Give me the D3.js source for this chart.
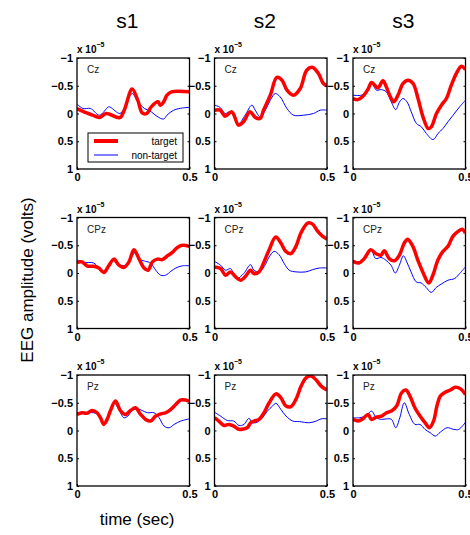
<!DOCTYPE html>
<html><head><meta charset="utf-8">
<script src="https://cdn.jsdelivr.net/npm/d3@7"></script>
<style>body{margin:0;background:#fff}svg{display:block}</style>
</head><body>
<script>
// Values in units of 1e-5 volts; time in seconds
const subjects = ["s1","s2","s3"];
const channels = ["Cz","CPz","Pz"];
const xTicks = [0, 0.5];
const yTicks = [-1, -0.5, 0, 0.5, 1];
const legendLabels = ["target","non-target"];

const s1_Cz_target = [[0,-0.09],[0.043,-0.01],[0.07,0.03],[0.1,0.07],[0.13,0],[0.19,0.075],[0.21,-0.06],[0.245,-0.44],[0.27,-0.24],[0.29,-0.01],[0.31,0],[0.33,-0.12],[0.36,-0.21],[0.37,-0.15],[0.385,-0.21],[0.4,-0.33],[0.42,-0.39],[0.5,-0.39]];
const s1_Cz_nontarget = [[0,-0.17],[0.027,-0.09],[0.06,-0.09],[0.1,0.03],[0.14,-0.12],[0.15,-0.11],[0.19,0],[0.21,-0.09],[0.245,-0.36],[0.27,-0.21],[0.3,-0.09],[0.33,-0.03],[0.355,0.05],[0.385,0.1],[0.4,0.03],[0.43,-0.06],[0.47,-0.1],[0.5,-0.11]];
const s2_Cz_target = [[0,-0.06],[0.025,-0.06],[0.047,0.05],[0.077,-0.03],[0.107,0.21],[0.129,0.15],[0.158,-0.03],[0.181,0.07],[0.203,0.09],[0.218,-0.06],[0.248,-0.33],[0.277,-0.65],[0.3,-0.6],[0.322,-0.42],[0.351,-0.33],[0.381,-0.45],[0.41,-0.78],[0.436,-0.83],[0.462,-0.72],[0.484,-0.54],[0.5,-0.5]];
const s2_Cz_nontarget = [[0,-0.15],[0.025,-0.11],[0.047,0],[0.07,-0.03],[0.107,0.18],[0.136,0.03],[0.166,-0.15],[0.181,-0.06],[0.203,0.06],[0.226,-0.06],[0.248,-0.24],[0.27,-0.36],[0.292,-0.3],[0.322,-0.09],[0.351,0.03],[0.396,0.03],[0.44,0],[0.47,-0.06],[0.5,-0.06]];
const s3_Cz_target = [[0,-0.27],[0.022,-0.25],[0.044,-0.31],[0.067,-0.44],[0.082,-0.56],[0.096,-0.51],[0.111,-0.46],[0.133,-0.59],[0.148,-0.48],[0.163,-0.33],[0.181,-0.21],[0.2,-0.33],[0.222,-0.54],[0.245,-0.6],[0.267,-0.54],[0.289,-0.27],[0.311,0.06],[0.334,0.27],[0.348,0.24],[0.371,0],[0.393,-0.15],[0.415,-0.27],[0.437,-0.51],[0.459,-0.72],[0.482,-0.85],[0.5,-0.79]];
const s3_Cz_nontarget = [[0,-0.33],[0.037,-0.33],[0.059,-0.39],[0.082,-0.55],[0.104,-0.42],[0.126,-0.43],[0.148,-0.39],[0.17,-0.21],[0.19,-0.07],[0.207,-0.21],[0.222,-0.27],[0.24,-0.21],[0.259,-0.03],[0.282,0.18],[0.304,0.24],[0.326,0.36],[0.356,0.47],[0.378,0.36],[0.4,0.27],[0.422,0.15],[0.445,0.03],[0.474,-0.12],[0.5,-0.24]];

const s1_CPz_target = [[0,-0.19],[0.022,-0.2],[0.044,-0.13],[0.074,-0.12],[0.097,-0.09],[0.119,-0.01],[0.141,-0.13],[0.164,-0.25],[0.186,-0.14],[0.208,-0.1],[0.231,-0.2],[0.253,-0.42],[0.275,-0.26],[0.298,-0.09],[0.316,-0.05],[0.335,-0.2],[0.357,-0.25],[0.379,-0.24],[0.402,-0.31],[0.424,-0.37],[0.446,-0.46],[0.469,-0.5],[0.5,-0.48]];
const s1_CPz_nontarget = [[0,-0.24],[0.03,-0.19],[0.074,-0.18],[0.119,-0.02],[0.141,-0.12],[0.167,-0.26],[0.193,-0.14],[0.216,-0.14],[0.238,-0.26],[0.26,-0.37],[0.283,-0.24],[0.305,-0.21],[0.327,-0.18],[0.35,-0.05],[0.372,0.04],[0.394,0.04],[0.417,-0.03],[0.439,-0.09],[0.469,-0.13],[0.5,-0.13]];
const s2_CPz_target = [[0,-0.11],[0.027,-0.08],[0.049,0.04],[0.071,-0.02],[0.094,0.07],[0.116,0.13],[0.138,0.06],[0.16,-0.05],[0.175,0.01],[0.198,-0.02],[0.22,-0.2],[0.243,-0.42],[0.272,-0.65],[0.295,-0.54],[0.317,-0.39],[0.339,-0.35],[0.362,-0.48],[0.384,-0.72],[0.414,-0.9],[0.436,-0.88],[0.459,-0.75],[0.481,-0.66],[0.5,-0.61]];
const s2_CPz_nontarget = [[0,-0.21],[0.027,-0.14],[0.049,-0.05],[0.071,-0.08],[0.085,0.01],[0.1,0.1],[0.13,0.01],[0.16,-0.15],[0.175,-0.05],[0.198,-0.02],[0.22,-0.11],[0.243,-0.29],[0.265,-0.39],[0.287,-0.33],[0.31,-0.17],[0.332,-0.05],[0.362,-0.02],[0.406,-0.02],[0.436,-0.06],[0.466,-0.09],[0.5,-0.09]];
const s3_CPz_target = [[0,-0.21],[0.027,-0.18],[0.05,-0.26],[0.079,-0.42],[0.101,-0.35],[0.124,-0.32],[0.139,-0.4],[0.161,-0.26],[0.184,-0.22],[0.206,-0.32],[0.228,-0.54],[0.243,-0.61],[0.266,-0.48],[0.288,-0.23],[0.31,-0.02],[0.337,0.18],[0.355,0.04],[0.377,-0.23],[0.4,-0.39],[0.422,-0.48],[0.444,-0.66],[0.467,-0.75],[0.485,-0.79],[0.5,-0.72]];
const s3_CPz_nontarget = [[0,-0.23],[0.027,-0.2],[0.057,-0.29],[0.079,-0.43],[0.101,-0.26],[0.124,-0.28],[0.146,-0.23],[0.169,-0.14],[0.188,0],[0.206,-0.14],[0.224,-0.31],[0.239,-0.2],[0.258,-0.02],[0.281,0.16],[0.303,0.18],[0.325,0.26],[0.348,0.35],[0.37,0.26],[0.392,0.2],[0.422,0.13],[0.452,0.1],[0.474,0.01],[0.5,-0.11]];

const s1_Pz_target = [[0,-0.29],[0.022,-0.32],[0.044,-0.31],[0.067,-0.36],[0.089,-0.32],[0.104,-0.23],[0.119,-0.11],[0.134,-0.2],[0.149,-0.36],[0.171,-0.53],[0.193,-0.36],[0.216,-0.29],[0.238,-0.36],[0.26,-0.41],[0.283,-0.29],[0.305,-0.2],[0.327,-0.17],[0.35,-0.26],[0.372,-0.3],[0.394,-0.32],[0.417,-0.38],[0.439,-0.47],[0.461,-0.55],[0.5,-0.53]];
const s1_Pz_nontarget = [[0,-0.32],[0.03,-0.31],[0.074,-0.32],[0.104,-0.26],[0.119,-0.11],[0.141,-0.24],[0.164,-0.5],[0.186,-0.38],[0.208,-0.23],[0.226,-0.26],[0.245,-0.36],[0.268,-0.39],[0.29,-0.36],[0.313,-0.32],[0.342,-0.32],[0.365,-0.23],[0.387,-0.08],[0.41,-0.05],[0.432,-0.11],[0.461,-0.17],[0.5,-0.21]];
const s2_Pz_target = [[0,-0.23],[0.019,-0.17],[0.042,-0.09],[0.064,-0.11],[0.086,-0.08],[0.109,-0.02],[0.131,-0.03],[0.146,-0.05],[0.161,-0.14],[0.176,-0.17],[0.198,-0.2],[0.22,-0.32],[0.243,-0.5],[0.273,-0.66],[0.295,-0.59],[0.318,-0.44],[0.34,-0.43],[0.362,-0.56],[0.385,-0.8],[0.407,-0.95],[0.43,-0.98],[0.452,-0.91],[0.474,-0.8],[0.5,-0.73]];
const s2_Pz_nontarget = [[0,-0.33],[0.027,-0.26],[0.057,-0.18],[0.086,-0.17],[0.109,-0.09],[0.131,-0.11],[0.153,-0.22],[0.168,-0.14],[0.19,-0.15],[0.213,-0.23],[0.235,-0.35],[0.258,-0.44],[0.273,-0.49],[0.295,-0.38],[0.318,-0.26],[0.348,-0.17],[0.378,-0.16],[0.422,-0.14],[0.452,-0.17],[0.474,-0.21],[0.5,-0.21]];
const s3_Pz_target = [[0,-0.2],[0.022,-0.17],[0.044,-0.21],[0.067,-0.29],[0.082,-0.2],[0.104,-0.24],[0.127,-0.26],[0.149,-0.32],[0.171,-0.35],[0.194,-0.44],[0.216,-0.68],[0.235,-0.73],[0.253,-0.62],[0.275,-0.41],[0.298,-0.26],[0.32,-0.14],[0.34,-0.05],[0.358,-0.17],[0.373,-0.44],[0.388,-0.62],[0.41,-0.69],[0.433,-0.73],[0.455,-0.78],[0.478,-0.75],[0.5,-0.65]];
const s3_Pz_nontarget = [[0,-0.23],[0.03,-0.23],[0.06,-0.27],[0.082,-0.35],[0.104,-0.23],[0.127,-0.2],[0.149,-0.21],[0.171,-0.2],[0.19,-0.05],[0.208,-0.23],[0.228,-0.5],[0.25,-0.29],[0.275,-0.11],[0.298,-0.11],[0.32,-0.02],[0.343,0.04],[0.366,0.1],[0.388,0.03],[0.418,-0.05],[0.448,-0.02],[0.47,-0.02],[0.5,-0.15]];

const series = {
  s1_Cz: [s1_Cz_target, s1_Cz_nontarget], s2_Cz: [s2_Cz_target, s2_Cz_nontarget], s3_Cz: [s3_Cz_target, s3_Cz_nontarget],
  s1_CPz: [s1_CPz_target, s1_CPz_nontarget], s2_CPz: [s2_CPz_target, s2_CPz_nontarget], s3_CPz: [s3_CPz_target, s3_CPz_nontarget],
  s1_Pz: [s1_Pz_target, s1_Pz_nontarget], s2_Pz: [s2_Pz_target, s2_Pz_nontarget], s3_Pz: [s3_Pz_target, s3_Pz_nontarget]
};

const W = 470, H = 535;
const colX = [77, 214.5, 353];
const rowY = [58, 217.5, 375];
const pw = 112.5, ph = 111;
const FONT = "'Liberation Sans', Arial, Helvetica, sans-serif";
const fmt = v => (v < 0 ? "\u2212" : "") + String(Math.abs(v));

const svg = d3.select("body").append("svg").attr("width", W).attr("height", H)
  .style("font-family", FONT);

subjects.forEach((s, ci) => {
  svg.append("text").attr("x", colX[ci] + pw / 2 - 6).attr("y", 28)
    .attr("text-anchor", "middle").attr("font-size", 21).text(s);
});

svg.append("text").attr("transform", "translate(33,280) rotate(-90)")
  .attr("text-anchor", "middle").attr("font-size", 17).text("EEG amplitude (volts)");
svg.append("text").attr("x", 137).attr("y", 525)
  .attr("text-anchor", "middle").attr("font-size", 17).text("time (sec)");

const colors = ["#ff0000", "#0000ff"];
const widths = [3.5, 1];

channels.forEach((ch, ri) => {
  subjects.forEach((s, ci) => {
    const x0 = colX[ci], y0 = rowY[ri];
    const x = d3.scaleLinear().domain([0, 0.5]).range([x0, x0 + pw]);
    const y = d3.scaleLinear().domain([-1, 1]).range([y0, y0 + ph]);
    const g = svg.append("g");

    // clip
    const cid = "clip_" + s + "_" + ch;
    svg.append("clipPath").attr("id", cid).append("rect")
      .attr("x", x0).attr("y", y0).attr("width", pw).attr("height", ph);

    const line = d3.line().x(d => x(d[0])).y(d => y(d[1])).curve(d3.curveCatmullRom.alpha(0.5));
    const data = series[s + "_" + ch];
    [1, 0].forEach(k => {
      g.append("path").datum(data[k]).attr("d", line)
        .attr("fill", "none").attr("stroke", colors[k]).attr("stroke-width", widths[k])
        .attr("stroke-linejoin", "round").attr("clip-path", "url(#" + cid + ")");
    });

    // axes
    const yAxis = d3.axisLeft(y).tickValues(yTicks).tickSize(-2).tickPadding(4).tickFormat(fmt);
    const ga = g.append("g").attr("transform", `translate(${x0},0)`).call(yAxis);
    const yAxisR = d3.axisRight(y).tickValues(yTicks).tickSize(-2).tickFormat("");
    const gr = g.append("g").attr("transform", `translate(${x0 + pw},0)`).call(yAxisR);
    const xAxis = d3.axisBottom(x).tickValues(xTicks).tickSize(-2).tickPadding(4).tickFormat(d => String(d));
    const gx = g.append("g").attr("transform", `translate(0,${y0 + ph})`).call(xAxis);
    [ga, gr, gx].forEach(a => {
      a.select(".domain").remove();
      a.selectAll("line").attr("stroke", "#000");
      a.selectAll("text").attr("font-family", FONT).attr("font-size", 11)
        .attr("font-weight", "bold").attr("fill", "#000");
    });
    gx.selectAll("text").attr("dy", "0.75em");

    g.append("rect").attr("x", x0).attr("y", y0).attr("width", pw).attr("height", ph)
      .attr("fill", "none").attr("stroke", "#000").attr("stroke-width", 1.3);

    // exponent label
    const et = g.append("text").attr("x", x0).attr("y", y0 - 5)
      .attr("font-size", 10).attr("font-weight", "bold");
    et.append("tspan").text("x 10");
    et.append("tspan").attr("dy", -6).attr("font-size", 7).text("\u22125");

    g.append("text").attr("x", x0 + 10).attr("y", y0 + 15)
      .attr("font-size", 10).attr("fill", "#222").text(ch);

    if (ri === 0 && ci === 0) {
      const lg = g.append("g");
      lg.append("rect").attr("x", 88).attr("y", 133).attr("width", 95).attr("height", 29)
        .attr("fill", "#fff").attr("stroke", "#000").attr("stroke-width", 1);
      legendLabels.forEach((lab, k) => {
        const ly = 141 + k * 14;
        lg.append("line").attr("x1", 94).attr("x2", 118).attr("y1", ly).attr("y2", ly)
          .attr("stroke", colors[k]).attr("stroke-width", k === 0 ? 4 : 1);
        lg.append("text").attr("x", 177).attr("y", ly + 3.5).attr("text-anchor", "end")
          .attr("font-size", 10).text(lab);
      });
    }
  });
});
</script>
</body></html>
